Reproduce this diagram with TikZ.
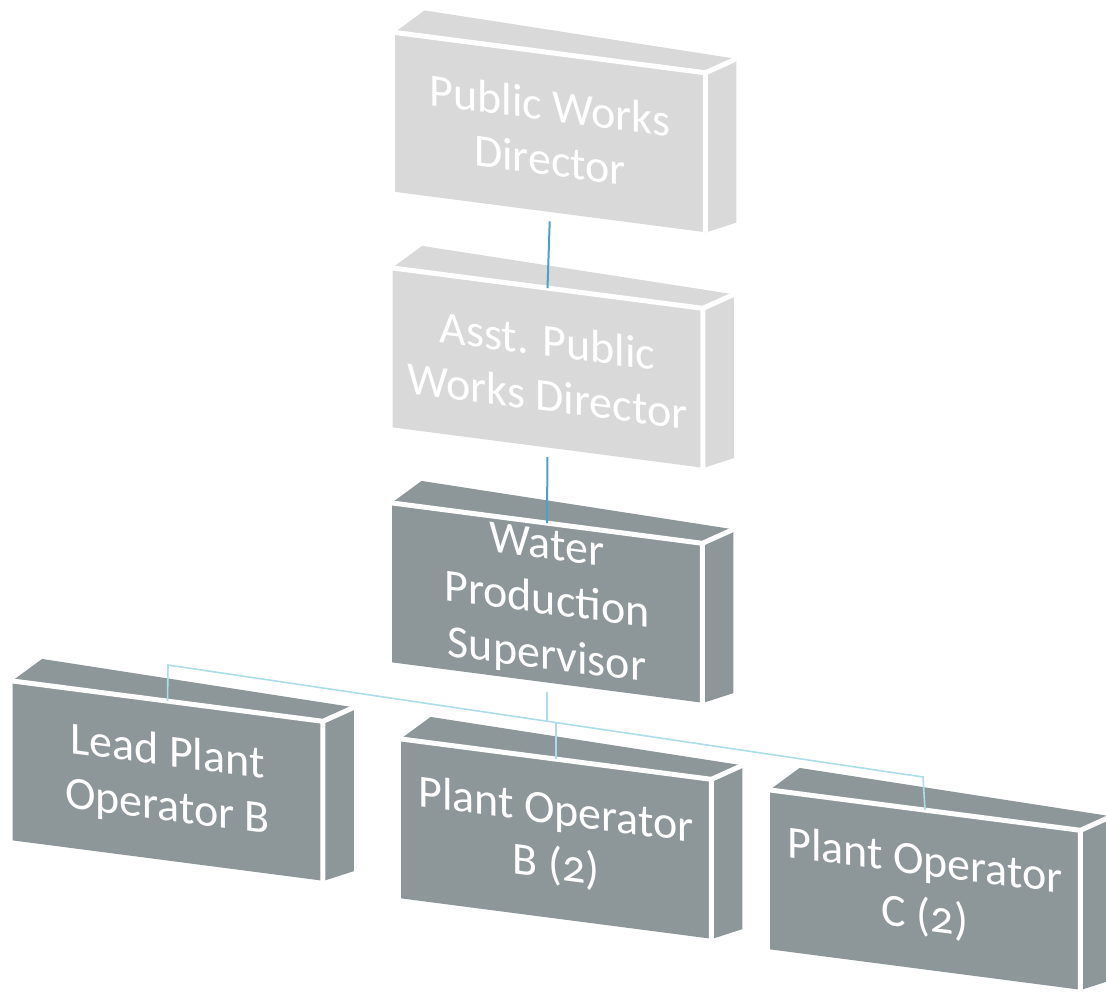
\documentclass[tikz,border=0pt]{standalone}
\usepackage{fontspec}
\setmainfont[Numbers=OldStyle]{Carlito}
\usetikzlibrary{calc}

\definecolor{pwdgray}{RGB}{217,217,218}
\definecolor{opgray}{RGB}{141,151,153}
\definecolor{linkblue}{RGB}{78,160,200}
\definecolor{buscyan}{RGB}{172,222,234}

% top and right face of a block
\newcommand\blockside[2]{%
  \fill[#2] (#1.north west) -- ++(15pt,11pt) -- ($(#1.north east)+(15.5pt,7pt)$) -- (#1.north east) -- cycle;
  \fill[#2] (#1.north east) -- ++(15.5pt,7pt) -- ($(#1.south east)+(15.5pt,5pt)$) -- (#1.south east) -- cycle;
  \draw[white,line width=2.5pt] (#1.north west) -- (#1.north east) -- (#1.south east)
    (#1.north east) -- ++(15.5pt,7pt);
}

\begin{document}
\begin{tikzpicture}[x=0.5pt,y=-0.5pt,
  block/.style={yslant=-0.13, minimum width=155pt, minimum height=79.5pt,
    inner sep=0pt, align=center, text=white, font=\fontsize{23}{27.5}\selectfont},
  upper/.style={block, fill=pwdgray},
  lower/.style={block, fill=opgray},
  link/.style={linkblue, line width=1pt},
  bus/.style={buscyan, line width=0.8pt}]
\useasboundingbox (0,0) rectangle (1106,993);
%Directors
\node[upper] (pwd) at (550,132.5) {Public Works\\Director};
\node[upper] (apwd) at (547.5,368) {Asst. Public\\Works Director};
%Supervisor
\node[lower] (wps) at (547,603) {Water\\Production\\Supervisor};
%Operators
\node[lower] (lpo) at (167.5,781) {Lead Plant\\Operator B};
\node[lower] (pob) at (556,839) {Plant Operator\\B (2)};
\node[lower] (poc) at (925,890) {Plant Operator\\C (2)};
\foreach \b/\c in {pwd/pwdgray, apwd/pwdgray, wps/opgray, lpo/opgray, pob/opgray, poc/opgray}
  \blockside{\b}{\c};
%Lines
\draw[link, shorten <=4.5pt] (pwd.south) -- (apwd.north);
\draw[link, shorten <=4.5pt] (apwd.south) -- (wps.north);
\coordinate (lpoTop) at (168,665);
\coordinate (hub) at (547,721);
\coordinate (pobTop) at (556,722);
\coordinate (pocTop) at (923,777);
\draw[bus, shorten <=4.5pt] (wps.south) -- (hub);
\draw[bus] (lpo.north) -- (lpoTop) -- (pocTop) -- (poc.north);
\draw[bus] (pobTop) -- (pob.north);
\end{tikzpicture}
\end{document}
